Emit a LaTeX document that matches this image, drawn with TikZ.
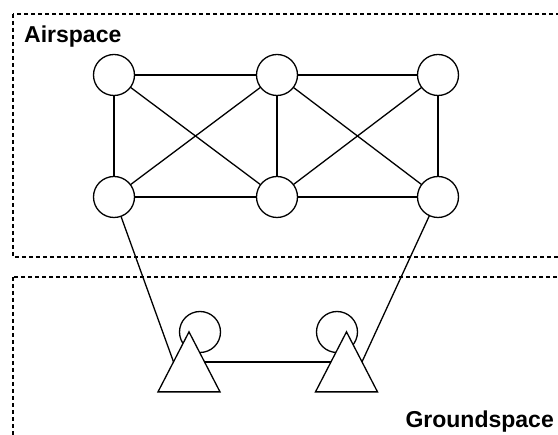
\documentclass[tikz,border=0pt]{standalone}
\usepackage{fontspec}
\setmainfont{Liberation Sans}
\usetikzlibrary{shapes.geometric}

\tikzset{
  zone/.style={draw=black, line width=1.2pt, dash pattern=on 4pt off 3pt},
  zonelabel/.style={font=\fontsize{23}{26}\selectfont\bfseries, inner sep=0pt},
  drone/.style={circle, draw=black, line width=1.3pt, fill=white,
    minimum size=41pt, inner sep=0pt, outer sep=0pt},
  station/.style={isosceles triangle, shape border rotate=90,
    isosceles triangle stretches, minimum width=62pt, minimum height=60pt,
    draw=black, line width=1.3pt, fill=white, inner sep=0pt, outer sep=0pt},
  link/.style={draw=black, line width=1.3pt}
}

\begin{document}
\begin{tikzpicture}[x=1pt, y=-1pt]
  \clip (0,0) rectangle (558,435);
  \fill[white] (0,0) rectangle (558,435);

  % dashed zones
  \draw[zone] (13,14) rectangle (600,257);
  \draw[zone] (13,277) rectangle (600,480);
  \node[zonelabel, anchor=base west] (air) at (24,43) {Airspace};
  \node[zonelabel, anchor=base east] (ground) at (554,428) {Groundspace};

  % aerial nodes
  \node[drone] (a1) at (114,75) {};
  \node[drone] (a2) at (277,75) {};
  \node[drone] (a3) at (438,75) {};
  \node[drone] (b1) at (114,197) {};
  \node[drone] (b2) at (277,197) {};
  \node[drone] (b3) at (438,197) {};

  % mesh links
  \draw[link] (a1) -- (a2);
  \draw[link] (a2) -- (a3);
  \draw[link] (b1) -- (b2);
  \draw[link] (b2) -- (b3);
  \draw[link] (a1) -- (b1);
  \draw[link] (a2) -- (b2);
  \draw[link] (a3) -- (b3);
  \draw[link] (a1) -- (b2);
  \draw[link] (b1) -- (a2);
  \draw[link] (a2) -- (b3);
  \draw[link] (b2) -- (a3);

  % ground stations (triangle centres sit at the centroid)
  \node[drone] (g1) at (200,332) {};
  \node[drone] (g2) at (337,332) {};
  \node[station] (t1) at (189,373) {};
  \node[station] (t2) at (346.5,373) {};

  % ground links
  \draw[link] (b1) -- (t1.left side);
  \draw[link] (b3) -- (t2.right side);
  \draw[link] (t1.right side) -- (t2.left side);
\end{tikzpicture}
\end{document}
